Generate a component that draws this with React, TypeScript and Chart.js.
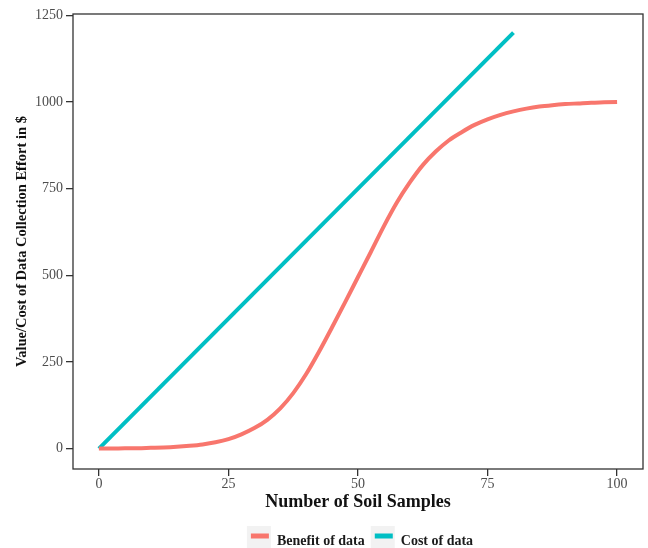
import React, { useEffect, useRef } from "react";
import { Chart, registerables } from "chart.js";

Chart.register(...registerables);

// ---- data ----
const sampleCounts = [
  0, 2.5, 5, 7.5, 10, 12.5, 15, 17.5, 20, 22.5, 25, 27.5, 30, 32.5, 35, 37.5, 40,
  42.5, 45, 47.5, 50, 52.5, 55, 57.5, 60, 62.5, 65, 67.5, 70, 72.5, 75, 77.5, 80,
  82.5, 85, 87.5, 90, 92.5, 95, 97.5, 100,
];
const benefitValues = [
  0, 0, 1, 1, 2, 3, 5, 8, 12, 18, 27, 41, 59, 83, 116, 160, 215,
  280, 350, 422, 495, 568, 642, 710, 768, 818, 857, 889, 913, 934, 950, 963, 973,
  981, 987, 991, 994, 996, 998, 999, 1000,
];
const costSampleCounts = [0, 80];
const costValues = [0, 1200];

const seriesLabels = ["Benefit of data", "Cost of data"];
const seriesColors = ["#F8766D", "#00BFC4"];
const xTickValues = [0, 25, 50, 75, 100];
const yTickValues = [0, 250, 500, 750, 1000, 1250];
const xAxisTitle = "Number of Soil Samples";
const yAxisTitle = "Value/Cost of Data Collection Effort in $";

const SERIF = '"Liberation Serif", "Times New Roman", serif';

const panelAndLegend = {
  id: "panelAndLegend",
  afterDraw(chart: any) {
    const { ctx, chartArea: a } = chart;
    ctx.save();
    // panel border
    ctx.strokeStyle = "#333333";
    ctx.lineWidth = 1.3;
    ctx.strokeRect(a.left, a.top, a.right - a.left, a.bottom - a.top);

    // legend
    ctx.font = `bold 14px ${SERIF}`;
    const keyW = 24;
    const keyH = 24;
    const gap = 6;
    const items = chart.data.datasets.map((ds: any) => ({
      label: ds.label,
      color: ds.borderColor,
      w: ctx.measureText(ds.label).width,
    }));
    const total =
      items.reduce((s: number, it: any) => s + keyW + gap + it.w, 0) +
      gap * (items.length - 1);
    let x = (a.left + a.right) / 2 + 2 - total / 2;
    const keyTop = chart.height - 22;
    const textMid = chart.height - 6.5;
    items.forEach((it: any) => {
      ctx.fillStyle = "#F2F2F2";
      ctx.fillRect(x, keyTop, keyW, keyH);
      ctx.strokeStyle = it.color;
      ctx.lineWidth = 5;
      ctx.lineCap = "butt";
      ctx.beginPath();
      ctx.moveTo(x + 4, keyTop + 10);
      ctx.lineTo(x + keyW - 2, keyTop + 10);
      ctx.stroke();
      ctx.fillStyle = "#1a1a1a";
      ctx.textAlign = "left";
      ctx.textBaseline = "middle";
      ctx.fillText(it.label, x + keyW + gap, textMid);
      x += keyW + gap + it.w + gap;
    });
    ctx.restore();
  },
};

export default function App() {
  const canvasRef = useRef<HTMLCanvasElement | null>(null);

  useEffect(() => {
    const canvas = canvasRef.current;
    if (!canvas) return;
    const chart = new Chart(canvas, {
      type: "line",
      data: {
        datasets: [
          {
            label: seriesLabels[0],
            data: sampleCounts.map((x, i) => ({ x, y: benefitValues[i] })),
            borderColor: seriesColors[0],
            backgroundColor: seriesColors[0],
            borderWidth: 4,
            pointRadius: 0,
            cubicInterpolationMode: "monotone",
            fill: false,
          },
          {
            label: seriesLabels[1],
            data: costSampleCounts.map((x, i) => ({ x, y: costValues[i] })),
            borderColor: seriesColors[1],
            backgroundColor: seriesColors[1],
            borderWidth: 4,
            pointRadius: 0,
            fill: false,
          },
        ],
      },
      options: {
        responsive: false,
        animation: false,
        layout: { padding: { left: 0, top: 14, right: 5, bottom: 34 } },
        plugins: {
          legend: { display: false },
          tooltip: { enabled: false },
        },
        scales: {
          x: {
            type: "linear",
            min: -5,
            max: 105,
            afterBuildTicks: (s: any) => {
              s.ticks = xTickValues.map((v) => ({ value: v }));
            },
            afterFit: (s: any) => {
              s.height = 45;
            },
            grid: {
              drawOnChartArea: false,
              drawTicks: true,
              tickLength: 7,
              color: "#333333",
              lineWidth: 1.3,
            },
            border: { display: false },
            ticks: {
              padding: 0,
              color: "#4d4d4d",
              font: { family: SERIF, size: 14 },
              maxRotation: 0,
              autoSkip: false,
              callback: (v: any) => String(v),
            },
            title: {
              display: true,
              text: xAxisTitle,
              color: "#111111",
              font: { family: SERIF, size: 18, weight: "bold" },
              padding: { top: 0, bottom: 1 },
            },
          },
          y: {
            type: "linear",
            min: -59,
            max: 1254,
            afterBuildTicks: (s: any) => {
              s.ticks = yTickValues.map((v) => ({ value: v }));
            },
            afterFit: (s: any) => {
              s.width = 73;
            },
            grid: {
              drawOnChartArea: false,
              drawTicks: true,
              tickLength: 7,
              color: "#333333",
              lineWidth: 1.3,
            },
            border: { display: false },
            ticks: {
              padding: 3,
              color: "#4d4d4d",
              font: { family: SERIF, size: 14 },
              autoSkip: false,
              callback: (v: any) => String(v),
            },
            title: {
              display: true,
              text: yAxisTitle,
              color: "#111111",
              font: { family: SERIF, size: 14.5, weight: "bold" },
              padding: { top: 14, bottom: 0 },
            },
          },
        },
      },
      plugins: [panelAndLegend],
    } as any);
    return () => chart.destroy();
  }, []);

  return (
    <div
      style={{
        position: "absolute",
        left: 0,
        top: 0,
        width: 648,
        height: 548,
        background: "#ffffff",
      }}
    >
      <canvas
        ref={canvasRef}
        width={648}
        height={548}
        style={{ display: "block", width: 648, height: 548 }}
      />
    </div>
  );
}
